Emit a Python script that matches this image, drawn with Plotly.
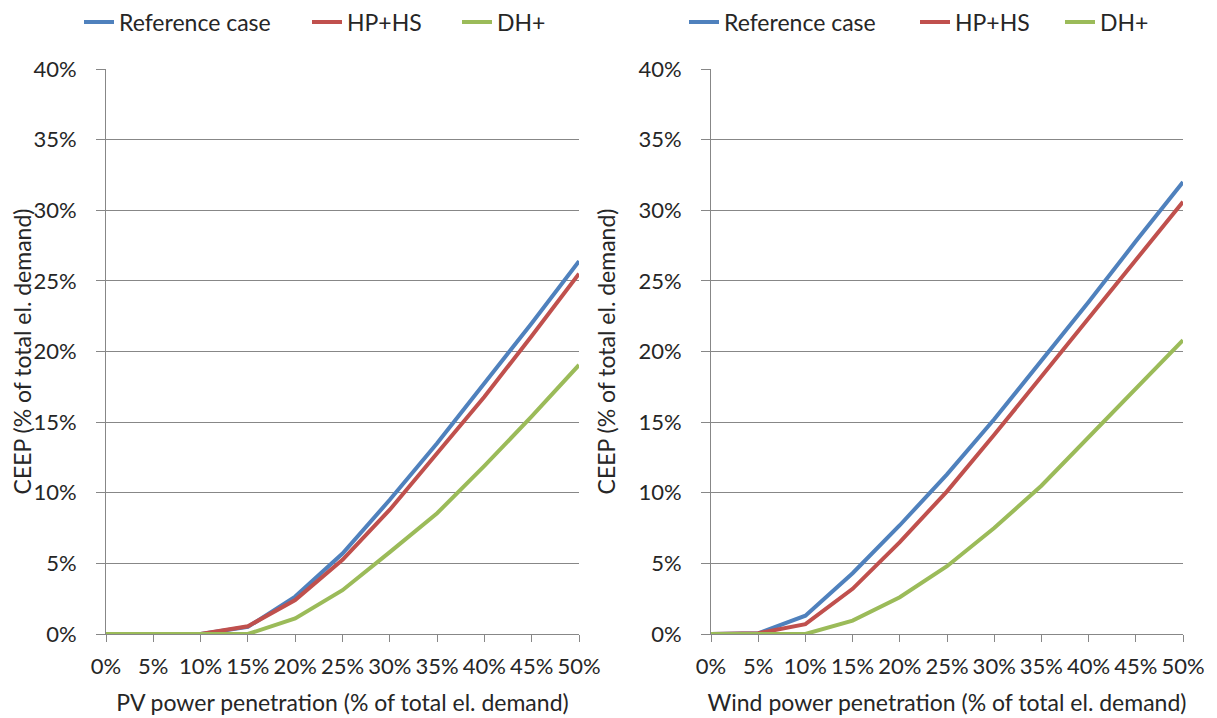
import plotly.graph_objects as go

# penetration levels (% of total el. demand)
penetration = [0, 5, 10, 15, 20, 25, 30, 35, 40, 45, 50]
x_tick_labels = ["0%", "5%", "10%", "15%", "20%", "25%", "30%", "35%", "40%", "45%", "50%"]

# CEEP (% of total el. demand) - PV case
pv_reference = [0, 0, 0, 0.5, 2.65, 5.7, 9.5, 13.5, 17.7, 22.0, 26.4]
pv_hp_hs = [0, 0, 0, 0.55, 2.4, 5.25, 8.8, 12.8, 16.8, 21.1, 25.5]
pv_dh = [0, 0, 0, 0, 1.1, 3.1, 5.8, 8.55, 11.9, 15.4, 19.05]

# CEEP (% of total el. demand) - wind case
wind_reference = [0, 0.05, 1.3, 4.3, 7.7, 11.3, 15.2, 19.3, 23.5, 27.8, 32.0]
wind_hp_hs = [0, 0.05, 0.7, 3.2, 6.5, 10.1, 14.1, 18.2, 22.3, 26.5, 30.6]
wind_dh = [0, 0, 0, 0.95, 2.6, 4.8, 7.5, 10.5, 13.9, 17.3, 20.8]

series_names = ["Reference case", "HP+HS", "DH+"]
colors = ["#4F81BD", "#C0504D", "#9BBB59"]

W, H = 1217, 718
FONT = "Lato"
FS = 23
TICK_FS = 22
GRID = "#878787"
TXT = "#262626"

# one legend per entry so the items can be spaced like the original
legend_x = {
    "x": [71, 299, 449],
    "x2": [676, 907, 1052],
}

fig = go.Figure()

panels = [
    ("x", "y", [pv_reference, pv_hp_hs, pv_dh]),
    ("x2", "y2", [wind_reference, wind_hp_hs, wind_dh]),
]
legend_layout = {}
n = 0
for xa, ya, data in panels:
    for i, (name, vals, col) in enumerate(zip(series_names, data, colors)):
        n += 1
        key = "legend" if n == 1 else f"legend{n}"
        fig.add_trace(
            go.Scatter(
                x=penetration,
                y=vals,
                name=name,
                mode="lines",
                line=dict(color=col, width=4),
                xaxis=xa,
                yaxis=ya,
                legend=key,
                showlegend=True,
            )
        )
        legend_layout[key] = dict(
            orientation="h",
            yanchor="middle",
            y=1 - 14 / H,
            xanchor="left",
            x=legend_x[xa][i] / W,
            font=dict(size=FS, color=TXT),
            bgcolor="rgba(0,0,0,0)",
            itemclick=False,
            itemdoubleclick=False,
        )

xcommon = dict(
    range=[0, 50],
    tickvals=penetration,
    ticktext=x_tick_labels,
    showgrid=False,
    showline=True,
    linecolor=GRID,
    ticks="outside",
    ticklen=7,
    tickcolor=GRID,
    ticklabelstandoff=6,
    tickfont=dict(size=TICK_FS, color=TXT),
    zeroline=False,
    fixedrange=True,
    automargin=False,
)
ycommon = dict(
    range=[0, 40],
    dtick=5,
    ticksuffix="%",
    showgrid=True,
    gridcolor=GRID,
    gridwidth=1,
    showline=True,
    linecolor=GRID,
    ticks="outside",
    ticklen=9,
    tickcolor=GRID,
    ticklabelstandoff=15,
    tickfont=dict(size=TICK_FS, color=TXT),
    zeroline=False,
    fixedrange=True,
    automargin=False,
)

ydom = [92 / H, 1 - 61 / H]

fig.update_layout(
    width=W,
    height=H,
    showlegend=True,
    margin=dict(l=0, r=0, t=0, b=0, autoexpand=False),
    paper_bgcolor="white",
    plot_bgcolor="white",
    font=dict(family=FONT, color=TXT),
    xaxis=dict(
        xcommon,
        domain=[98 / W, 571 / W],
        anchor="y",
        title=dict(text="PV power penetration (% of total el. demand)",
                   font=dict(size=FS), standoff=16),
    ),
    yaxis=dict(
        ycommon,
        domain=ydom,
        anchor="x",
        title=dict(text="CEEP (% of total el. demand)",
                   font=dict(size=FS), standoff=16),
    ),
    xaxis2=dict(
        xcommon,
        domain=[703 / W, 1175 / W],
        anchor="y2",
        title=dict(text="Wind power penetration (% of total el. demand)",
                   font=dict(size=FS), standoff=16),
    ),
    yaxis2=dict(
        ycommon,
        domain=ydom,
        anchor="x2",
        title=dict(text="CEEP (% of total el. demand)",
                   font=dict(size=FS), standoff=16),
    ),
    **legend_layout,
)

fig.write_html("out.html")
